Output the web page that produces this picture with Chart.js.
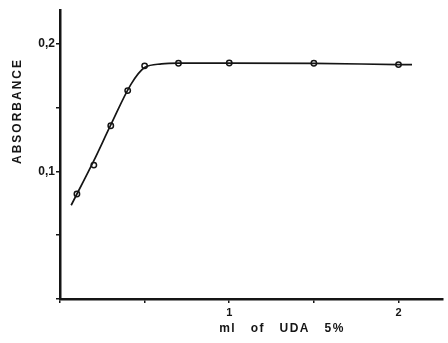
<!DOCTYPE html>
<html>
<head>
<meta charset="utf-8">
<script src="https://cdn.jsdelivr.net/npm/chart.js@4"></script>
<style>
html,body{margin:0;padding:0;background:#fff;}
#wrap{width:448px;height:343px;}
</style>
</head>
<body>
<div id="wrap"><canvas id="c" width="448" height="343"></canvas></div>
<script>
// Measured points (ml of UDA 5%, absorbance)
const pointX = [0.1, 0.2, 0.3, 0.4, 0.5, 0.7, 1.0, 1.5, 2.0];
const pointY = [0.0823, 0.105, 0.1358, 0.1634, 0.1828, 0.1849, 0.1851, 0.1849, 0.1838];
// Fitted curve
const curveX = [0.066, 0.2, 0.3, 0.42, 0.5, 0.6, 0.7, 1.0, 1.5, 2.0, 2.08];
const curveY = [0.0735, 0.1085, 0.1365, 0.1685, 0.1815, 0.1843, 0.1849, 0.1850, 0.1848, 0.1838, 0.1837];
const xTickLabels = {1: '1', 2: '2'};
const yTickLabels = {0.1: '0,1', 0.2: '0,2'};
const xTitle = 'ml   of   UDA   5%';
const yTitle = 'ABSORBANCE';

const FONT = '"Liberation Sans", Arial, sans-serif';
const INK = '#151515';

const titles = {
  id: 'titles',
  afterDraw(chart) {
    const ctx = chart.ctx;
    ctx.save();
    ctx.fillStyle = INK;
    ctx.font = 'bold 12px ' + FONT;
    ctx.letterSpacing = '1.5px';
    ctx.textAlign = 'center';
    ctx.textBaseline = 'middle';
    ctx.fillText(xTitle, 282, 329);
    ctx.translate(18, 111);
    ctx.rotate(-Math.PI / 2);
    ctx.font = 'bold 12px ' + FONT;
    ctx.letterSpacing = '2px';
    ctx.fillText(yTitle, 0, 0);
    ctx.restore();
  }
};

new Chart(document.getElementById('c'), {
  type: 'scatter',
  data: {
    datasets: [
      {
        data: curveX.map((x, i) => ({x, y: curveY[i]})),
        showLine: true,
        borderColor: INK,
        borderWidth: 1.7,
        pointRadius: 0,
        cubicInterpolationMode: 'monotone',
        fill: false
      },
      {
        data: pointX.map((x, i) => ({x, y: pointY[i]})),
        showLine: false,
        pointRadius: 2.7,
        pointBorderWidth: 1.5,
        pointBorderColor: INK,
        pointBackgroundColor: '#fff'
      }
    ]
  },
  options: {
    responsive: false,
    animation: false,
    layout: {padding: {top: 10, right: 0, left: 0, bottom: 0}},
    plugins: {legend: {display: false}, tooltip: {enabled: false}},
    scales: {
      x: {
        type: 'linear',
        min: 0, max: 2.26,
        afterFit(s) { s.height = 44; },
        border: {color: INK, width: 2.5},
        grid: {drawOnChartArea: false, tickLength: 4, color: INK, lineWidth: 1.5},
        ticks: {
          stepSize: 0.5, includeBounds: false, padding: 3,
          color: INK, font: {family: FONT, size: 11, weight: 'bold'},
          maxRotation: 0,
          callback: v => xTickLabels[v] || ''
        }
      },
      y: {
        type: 'linear',
        min: 0, max: 0.2266,
        afterFit(s) { s.width = 60; },
        border: {color: INK, width: 2.5},
        grid: {drawOnChartArea: false, tickLength: 4, color: INK, lineWidth: 1.5},
        ticks: {
          stepSize: 0.05, includeBounds: false, padding: 1,
          color: INK, font: {family: FONT, size: 12, weight: 'bold'},
          callback: v => yTickLabels[Math.round(v * 100) / 100] || ''
        }
      }
    }
  },
  plugins: [titles]
});
</script>
</body>
</html>
